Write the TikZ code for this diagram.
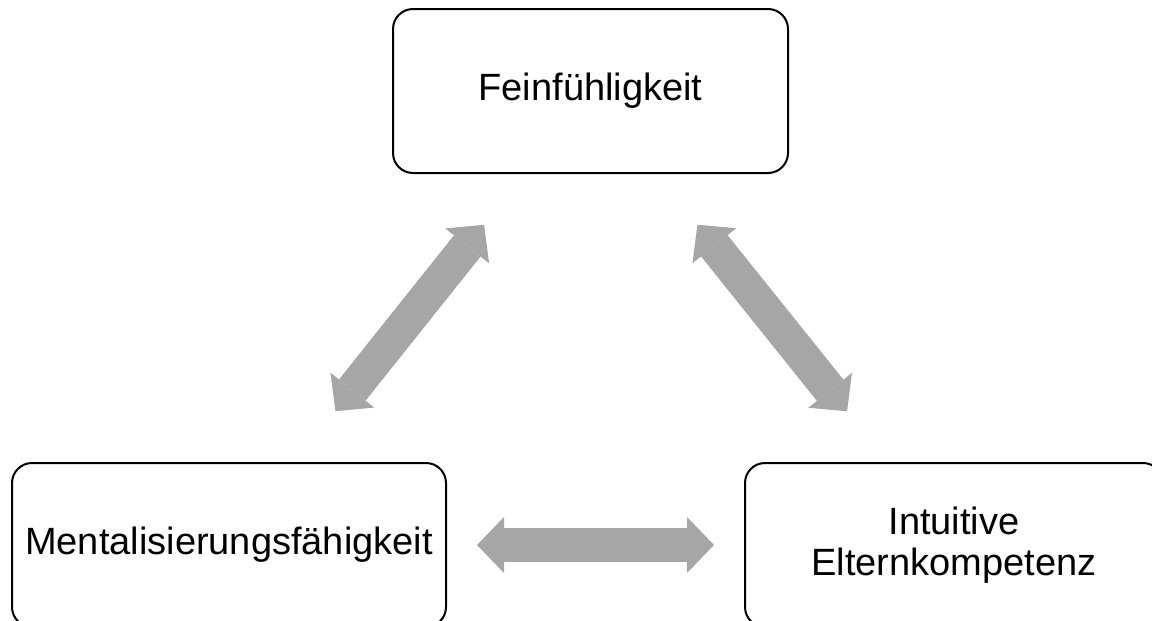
\documentclass[tikz,border=0pt]{standalone}
\usepackage{fontspec}
\setmainfont{Liberation Sans}
\usetikzlibrary{arrows.meta}
\definecolor{linkgray}{HTML}{A6A6A6}

\begin{document}
\begin{tikzpicture}[x=1pt, y=-1pt,
  concept/.style={rectangle, rounded corners=20pt, draw=black, line width=2pt,
                  fill=white, inner sep=0pt, minimum height=164pt,
                  align=center, font=\fontsize{38}{41}\selectfont},
  link/.style={<->, >={Triangle[length=27pt, width=56pt, line width=0pt]},
               line width=34pt, draw=linkgray}
]
  \useasboundingbox (0,0) rectangle (1152,621);
  \node[concept, minimum width=395pt] (fein) at (590.5,91) {Feinfühligkeit};
  \node[concept, minimum width=434pt] (ment) at (229,545) {Mentalisierungsfähigkeit};
  \node[concept, minimum width=418pt] (intu) at (954,545) {Intuitive\\Elternkompetenz};
  \draw[link, shorten <=65pt, shorten >=65pt] (fein) -- (ment);
  \draw[link, shorten <=65pt, shorten >=65pt] (fein) -- (intu);
  \draw[link, shorten <=30pt, shorten >=30pt] (ment) -- (intu);
\end{tikzpicture}
\end{document}
